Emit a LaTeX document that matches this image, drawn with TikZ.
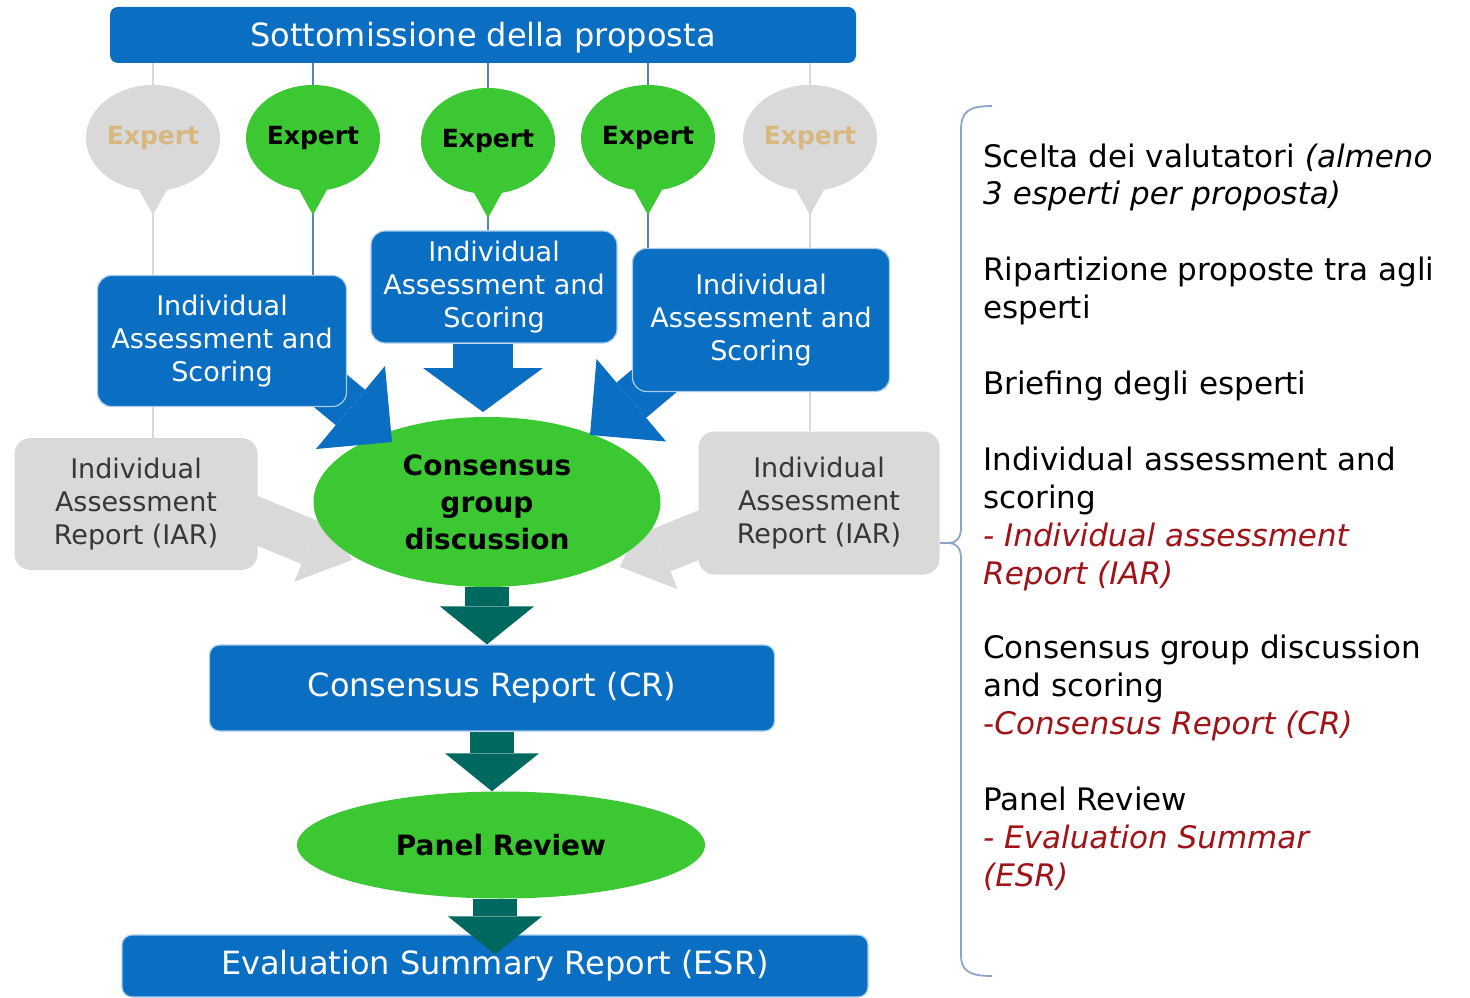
\documentclass[tikz,border=0pt]{standalone}
\usepackage{fontspec}
\setmainfont{DejaVu Sans}
\usepackage{tikz}
\usetikzlibrary{arrows.meta,shapes.geometric,shapes.callouts,calc}

\pgfdeclarelayer{back}
\pgfdeclarelayer{mid}
\pgfdeclarelayer{arr}
\pgfsetlayers{back,mid,arr,main}

\definecolor{evblue}{RGB}{10,110,195}
\definecolor{evgreen}{RGB}{60,200,50}
\definecolor{evgray}{RGB}{217,217,217}
\definecolor{evteal}{RGB}{0,105,95}
\definecolor{evtan}{RGB}{216,184,128}
\definecolor{evred}{RGB}{160,20,25}
\definecolor{evdark}{RGB}{55,55,55}
\definecolor{evline}{RGB}{90,130,185}
\definecolor{evbrace}{RGB}{140,165,200}

\begin{document}
\begin{tikzpicture}[x=1pt,y=-1pt]
        \tikzset{topbox/.style = {shape=rectangle, rounded corners=8pt, fill=evblue, text=white, inner sep=0pt, text depth=2pt, font=\fontsize{32}{38}\selectfont}}
        \tikzset{bluebox/.style = {shape=rectangle, rounded corners=14pt, fill=evblue, draw=evblue!35!white, line width=1.2pt, text=white, inner sep=0pt, align=center, font=\fontsize{27}{33}\selectfont}}
        \tikzset{graybox/.style = {shape=rectangle, rounded corners=16pt, fill=evgray, text=evdark, inner sep=0pt, align=center, font=\fontsize{27}{33}\selectfont}}
        \tikzset{expertc/.style = {shape=ellipse callout, callout relative pointer={(0pt,-24pt)}, callout pointer arc=24, minimum width=134pt, minimum height=106pt, inner sep=0pt, fill=evgreen, font=\bfseries\fontsize{25}{30}\selectfont}}
        \tikzset{expertx/.style = {expertc, fill=evgray, text=evtan}}
        \tikzset{bubble/.style = {shape=ellipse, fill=evgreen, inner sep=0pt, align=center, font=\bfseries\fontsize{28}{37}\selectfont}}
        \tikzset{desc/.style = {anchor=base west, align=left, inner sep=0pt, font=\fontsize{31}{37.8}\selectfont}}
        \tikzset{gline/.style = {line width=1.5pt, draw=evgray}}
        \tikzset{bline/.style = {line width=1.5pt, draw=evline}}
        \tikzset{brline/.style = {line width=1.8pt, draw=evbrace}}
        \tikzset{edgem/.style = {line width=60pt, draw=evblue, -{Triangle[length=44pt, width=120pt, line width=0pt]}}}
        \tikzset{edged/.style = {line width=46pt, draw=evblue, -{Triangle[length=54pt, width=108pt, line width=0pt]}}}
        \tikzset{edgeg/.style = {line width=46pt, draw=evgray, -{Triangle[length=45pt, width=84pt, line width=0pt]}}}
        \tikzset{edget/.style = {line width=44pt, draw=evteal, -{Triangle[length=38pt, width=94pt, line width=0pt]}}}

        \begin{pgfonlayer}{back}
        \path[use as bounding box, fill=white] (0,0) rectangle (1470,988);
        \end{pgfonlayer}

        % top box and experts
        \node[topbox, minimum width=746pt, minimum height=56pt] (sub) at (483,35) {Sottomissione della proposta};
        \node[expertx] (e1) at (153,138) {Expert};
        \node[expertc] (e2) at (313,138) {Expert};
        \node[expertc] (e3) at (488,141) {Expert};
        \node[expertc] (e4) at (648,138) {Expert};
        \node[expertx] (e5) at (810,138) {Expert};

        % assessment boxes
        \node[bluebox, minimum width=249pt, minimum height=131pt] (ias1) at (222,341) {Individual\\Assessment and\\Scoring};
        \node[bluebox, minimum width=246pt, minimum height=112pt] (ias2) at (494,287) {Individual\\Assessment and\\Scoring};
        \node[bluebox, minimum width=257pt, minimum height=143pt] (ias3) at (761,320) {Individual\\Assessment and\\Scoring};
        \node[graybox, minimum width=243pt, minimum height=132pt] (iar1) at (136,504) {Individual\\Assessment\\Report (IAR)};
        \node[graybox, minimum width=241pt, minimum height=143pt] (iar2) at (819,503) {Individual\\Assessment\\Report (IAR)};

        % consensus and reports
        \begin{pgfonlayer}{mid}
        \node[bubble, minimum width=347pt, minimum height=170pt] (cgd) at (487,502) {Consensus\\group\\discussion};
        \end{pgfonlayer}
        \node[bluebox, rounded corners=10pt, minimum width=565pt, minimum height=86pt, font=\fontsize{32}{38}\selectfont] (cr) at (492,688) {Consensus Report (CR)};
        \node[bubble, minimum width=408pt, minimum height=107pt] (pr) at (501,845) {Panel Review};
        \node[bluebox, rounded corners=10pt, minimum width=746pt, minimum height=62pt, font=\fontsize{32}{38}\selectfont] (esr) at (495,966) {Evaluation Summary Report (ESR)};

        \coordinate (tipl) at (392,442);
        \coordinate (tipm) at (483,412);
        \coordinate (tipr) at (590,435);
        \coordinate (tipgl) at (352,560);
        \coordinate (tipgr) at (620,567);
        \coordinate (brtip) at (949,543);

        %thin lines
        \begin{pgfonlayer}{back}
        \draw[gline] (sub.south -| e1) -- (iar1.north -| e1);
        \draw[bline] (sub.south -| e2) -- (ias1.north -| e2);
        \draw[bline] (sub.south -| e3) -- (ias2.north -| e3);
        \draw[bline] (sub.south -| e4) -- (ias3.north -| e4);
        \draw[gline] (sub.south -| e5) -- (iar2.north -| e5);
        %gray arrows
        \draw[edgeg] ($(iar1.east)+(-24,7)$) -- (tipgl);
        \draw[edgeg] ($(iar2.west)+(23,23)$) -- (tipgr);
        \end{pgfonlayer}

        %blue arrows
        \begin{pgfonlayer}{arr}
        \draw[edged] ($(ias1.south east)+(-32,-29)$) -- (tipl);
        \draw[edgem] (ias2.south -| tipm) -- (tipm);
        \draw[edged] ($(ias3.south west)+(34,-21)$) -- (tipr);
        \end{pgfonlayer}

        %teal arrows
        \draw[edget] (cgd.south) -- (cgd.south |- cr.north);
        \draw[edget] (cr.south) -- (cr.south |- pr.north);
        \draw[edget] (pr.south -| esr.north) -- ($(esr.north)+(0,20)$);

        %brace
        \draw[brline] (992,106) .. controls (968,106) and (961,112) .. (961,130) -- (961,528)
                .. controls (961,538) and (956,543) .. (brtip)
                .. controls (956,543) and (961,548) .. (961,558) -- (961,955)
                .. controls (961,970) and (968,976) .. (992,976);
        \draw[brline] (iar2.east |- brtip) -- (brtip);

        %steps
        \node[desc] (sc) at (983,205) {Scelta dei valutatori \textit{(almeno}\\\textit{3 esperti per proposta)}};
        \node[desc] (rip) at (983,318) {Ripartizione proposte tra agli\\esperti};
        \node[desc] (brf) at (983,394) {Briefing degli esperti};
        \node[desc] (ind) at (983,584) {Individual assessment and\\scoring\\\textcolor{evred}{\textit{- Individual assessment}}\\\textcolor{evred}{\textit{Report (IAR)}}};
        \node[desc] (con) at (983,734) {Consensus group discussion\\and scoring\\\textcolor{evred}{-\textit{Consensus Report (CR)}}};
        \node[desc] (pan) at (983,886) {Panel Review\\\textcolor{evred}{\textit{- Evaluation Summar}}\\\textcolor{evred}{\textit{(ESR)}}};
\end{tikzpicture}
\end{document}
